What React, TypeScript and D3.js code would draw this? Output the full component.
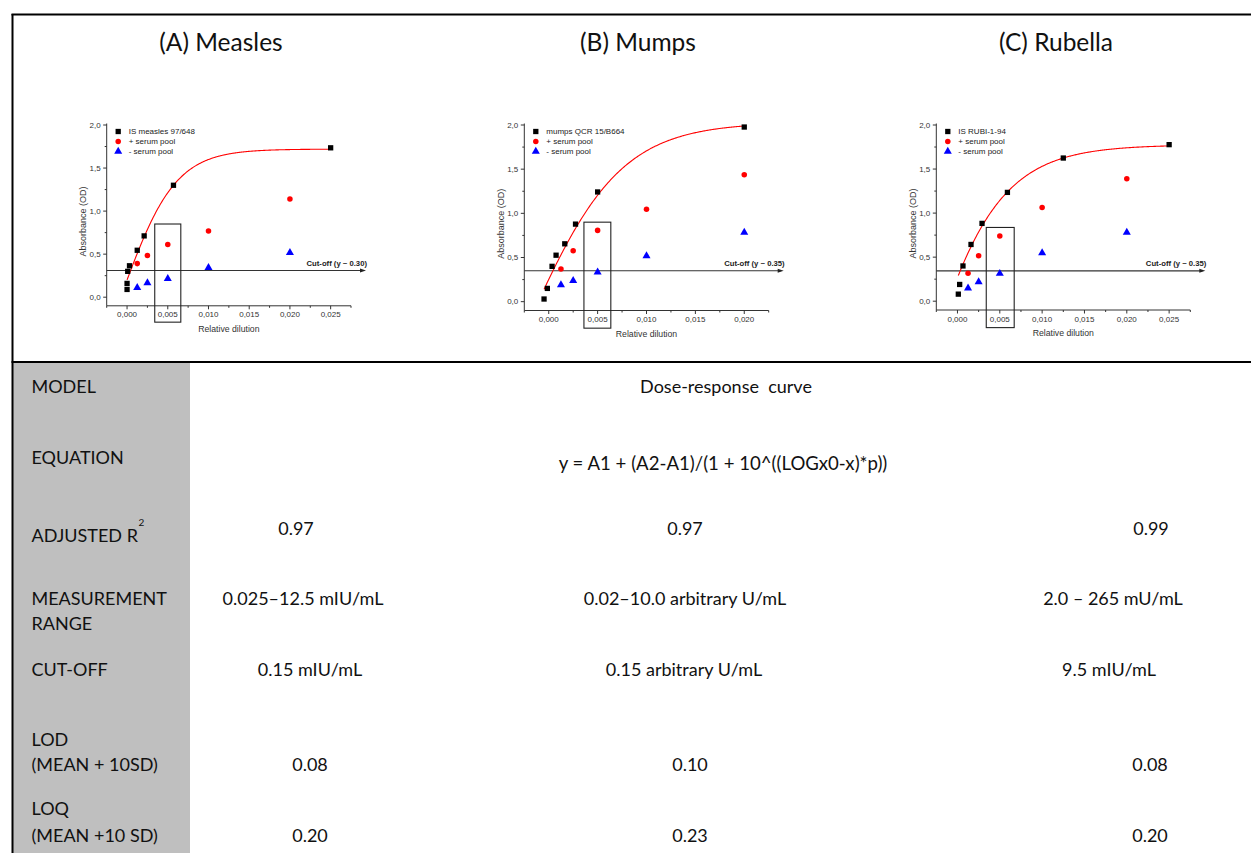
import React, { useEffect, useRef } from 'react'
import * as d3 from 'd3'

// panel titles and legend names
const panelTitles = ['(A) Measles', '(B) Mumps', '(C) Rubella']
const standardNames = ['IS measles 97/648', 'mumps QCR 15/B664', 'IS RUBI-1-94']
const poolNames = ['+ serum pool', '- serum pool']

// measles
const measlesStdX = [0, 0, 0.00008, 0.0003, 0.00125, 0.0021, 0.0057, 0.025]
const measlesStdY = [0.09, 0.16, 0.3, 0.365, 0.545, 0.712, 1.3, 1.735]
const measlesPoolX = [0.00125, 0.0025, 0.005, 0.01, 0.02]
const measlesPosY = [0.39, 0.485, 0.613, 0.77, 1.14]
const measlesNegY = [0.11, 0.165, 0.215, 0.342, 0.516]

// mumps
const mumpsStdX = [-0.00048, -0.00014, 0.00034, 0.00075, 0.00164, 0.00274, 0.005, 0.02]
const mumpsStdY = [0.03, 0.15, 0.4, 0.526, 0.655, 0.878, 1.242, 1.977]
const mumpsPoolX = [0.00125, 0.0025, 0.005, 0.01, 0.02]
const mumpsPosY = [0.37, 0.576, 0.807, 1.045, 1.436]
const mumpsNegY = [0.19, 0.237, 0.333, 0.519, 0.784]

// rubella
const rubellaStdX = [0.0001, 0.00026, 0.00065, 0.0016, 0.0029, 0.0059, 0.0125, 0.025]
const rubellaStdY = [0.08, 0.19, 0.4, 0.644, 0.883, 1.235, 1.625, 1.777]
const rubellaPoolX = [0.00125, 0.0025, 0.005, 0.01, 0.02]
const rubellaPosY = [0.318, 0.515, 0.739, 1.064, 1.39]
const rubellaNegY = [0.148, 0.22, 0.314, 0.549, 0.78]

// dose-response fit: y = A1 + (A2-A1)/(1 + 10^((LOGx0-x)*p))
const fitA1 = [-1.5, -2.5, -6]
const fitA2 = [1.72, 2.03, 1.775]
const fitLogx0 = [-0.00036, -0.00205, -0.00711]
const fitP = [136, 92.5, 87]

// cut-off lines and boxes around the 0,005 dilution
const cutOffY = [0.31, 0.35, 0.345]
const cutOffLabels = ['Cut-off (y ~ 0.30)', 'Cut-off (y ~ 0.35)', 'Cut-off (y ~ 0.35)']
const boxX0 = [0.0034, 0.0036, 0.0034]
const boxX1 = [0.0066, 0.00635, 0.0067]
const boxY0 = [-0.29, -0.3, -0.3]
const boxY1 = [0.85, 0.9, 0.837]

// x axis domains
const xMaxes = [0.0275, 0.0225, 0.0275]
const xTickMax = [0.025, 0.02, 0.025]

// table
const rowLabels = [['MODEL'], ['EQUATION'], ['ADJUSTED R'], ['MEASUREMENT', 'RANGE'], ['CUT-OFF'], ['LOD', '(MEAN + 10SD)'], ['LOQ', '(MEAN +10 SD)']]
const modelText = 'Dose-response  curve'
const equationText = 'y = A1 + (A2-A1)/(1 + 10^((LOGx0-x)*p))'
const adjustedR2 = ['0.97', '0.97', '0.99']
const measurementRange = ['0.025–12.5 mIU/mL', '0.02–10.0 arbitrary U/mL', '2.0 – 265 mU/mL']
const cutOffValues = ['0.15 mIU/mL', '0.15 arbitrary U/mL', '9.5 mIU/mL']
const lodValues = ['0.08', '0.10', '0.08']
const loqValues = ['0.20', '0.23', '0.20']

const panels = [
  { stdX: measlesStdX, stdY: measlesStdY, poolX: measlesPoolX, posY: measlesPosY, negY: measlesNegY },
  { stdX: mumpsStdX, stdY: mumpsStdY, poolX: mumpsPoolX, posY: mumpsPosY, negY: mumpsNegY },
  { stdX: rubellaStdX, stdY: rubellaStdY, poolX: rubellaPoolX, posY: rubellaPosY, negY: rubellaNegY }
]

// plot frames in page pixels
const frames = [
  { left: 106.7, right: 351, top: 125, bottom: 305.8, titleX: 221 },
  { left: 524.3, right: 768.7, top: 125, bottom: 310.5, titleX: 638 },
  { left: 936.3, right: 1190.3, top: 125, bottom: 310, titleX: 1056 }
]

const W = 1251
const H = 853
const TABLE_FONT = 'Lato, "Open Sans", sans-serif'
const CHART_FONT = '"Liberation Sans", Arial, sans-serif'

const comma = d3.formatLocale({ decimal: ',', thousands: '.', grouping: [3], currency: ['', ''] })

function drawPanel(svg: any, i: number) {
  const f = frames[i]
  const p = panels[i]
  const g = svg.append('g')

  const x = d3.scaleLinear().domain([-0.0025, xMaxes[i]]).range([f.left, f.right])
  const y = d3.scaleLinear().domain([-0.1, 2.0]).range([f.bottom, f.top])

  // title
  svg.append('text')
    .attr('x', f.titleX).attr('y', 51)
    .attr('text-anchor', 'middle')
    .attr('font-family', TABLE_FONT).attr('font-size', 24.5)
    .attr('fill', '#111')
    .text(panelTitles[i])

  // axes
  g.append('line').attr('x1', f.left).attr('x2', f.left).attr('y1', f.top - 1.5).attr('y2', f.bottom)
    .attr('stroke', '#333').attr('stroke-width', 1)
  g.append('line').attr('x1', f.left).attr('x2', f.right).attr('y1', f.bottom).attr('y2', f.bottom)
    .attr('stroke', '#333').attr('stroke-width', 1)

  const yMajor = d3.range(0, 2.01, 0.5)
  const yMinor = d3.range(0.25, 2, 0.5)
  const xMajor = d3.range(0, xTickMax[i] + 0.0001, 0.005)
  const xMinor = d3.range(-0.0025, xMaxes[i] + 0.0001, 0.005)

  g.selectAll('.ymaj').data(yMajor).enter().append('line')
    .attr('x1', f.left - 3.5).attr('x2', f.left)
    .attr('y1', (d: number) => y(d)).attr('y2', (d: number) => y(d))
    .attr('stroke', '#333')
  g.selectAll('.ymin').data(yMinor).enter().append('line')
    .attr('x1', f.left - 2).attr('x2', f.left)
    .attr('y1', (d: number) => y(d)).attr('y2', (d: number) => y(d))
    .attr('stroke', '#333')
  g.selectAll('.xmaj').data(xMajor).enter().append('line')
    .attr('x1', (d: number) => x(d)).attr('x2', (d: number) => x(d))
    .attr('y1', f.bottom).attr('y2', f.bottom + 3.5)
    .attr('stroke', '#333')
  g.selectAll('.xmin').data(xMinor).enter().append('line')
    .attr('x1', (d: number) => x(d)).attr('x2', (d: number) => x(d))
    .attr('y1', f.bottom).attr('y2', f.bottom + 2)
    .attr('stroke', '#333')

  g.selectAll('.ylab').data(yMajor).enter().append('text')
    .attr('x', f.left - 6).attr('y', (d: number) => y(d) + 2.8)
    .attr('text-anchor', 'end')
    .attr('font-family', CHART_FONT).attr('font-size', 8).attr('fill', '#333')
    .text((d: number) => comma.format('.1f')(d))
  g.selectAll('.xlab').data(xMajor).enter().append('text')
    .attr('x', (d: number) => x(d)).attr('y', f.bottom + 11.5)
    .attr('text-anchor', 'middle')
    .attr('font-family', CHART_FONT).attr('font-size', 8).attr('fill', '#333')
    .text((d: number) => comma.format('.3f')(d))

  // axis titles
  g.append('text')
    .attr('transform', `translate(${f.left - 20.5}, ${(f.top + f.bottom) / 2 + 6}) rotate(-90)`)
    .attr('text-anchor', 'middle')
    .attr('font-family', CHART_FONT).attr('font-size', 9).attr('fill', '#333')
    .text('Absorbance (OD)')
  g.append('text')
    .attr('x', (f.left + f.right) / 2).attr('y', f.bottom + 26)
    .attr('text-anchor', 'middle')
    .attr('font-family', CHART_FONT).attr('font-size', 8.7).attr('fill', '#333')
    .text('Relative dilution')

  // cut-off arrow
  const cy = y(cutOffY[i])
  const tip = f.right + 15
  g.append('line').attr('x1', f.left).attr('x2', tip - 3).attr('y1', cy).attr('y2', cy)
    .attr('stroke', '#333').attr('stroke-width', 1.2)
  g.append('path')
    .attr('d', `M${tip},${cy}L${tip - 6},${cy - 2}L${tip - 6},${cy + 2}Z`)
    .attr('fill', '#222')
  g.append('text')
    .attr('x', tip + 1).attr('y', cy - 4.5)
    .attr('text-anchor', 'end')
    .attr('font-family', CHART_FONT).attr('font-size', 7.7).attr('font-weight', 'bold').attr('fill', '#222')
    .text(cutOffLabels[i])

  // box around 0,005
  g.append('rect')
    .attr('x', x(boxX0[i])).attr('y', y(boxY1[i]))
    .attr('width', x(boxX1[i]) - x(boxX0[i])).attr('height', y(boxY0[i]) - y(boxY1[i]))
    .attr('fill', 'none').attr('stroke', '#222').attr('stroke-width', 1.1)

  // fitted curve
  const a1 = fitA1[i], a2 = fitA2[i], x0 = fitLogx0[i], pp = fitP[i]
  const xs = d3.range(p.stdX[0], d3.max(p.stdX) as number + 1e-6, 0.0001)
  const line = d3.line<number>()
    .x(d => x(d))
    .y(d => y(a1 + (a2 - a1) / (1 + Math.pow(10, (x0 - d) * pp))))
    .curve(d3.curveMonotoneX)
  g.append('path').attr('d', line(xs)).attr('fill', 'none').attr('stroke', '#ff0000').attr('stroke-width', 1.1)

  // markers
  const square = d3.symbol().type(d3.symbolSquare).size(28)
  const circle = d3.symbol().type(d3.symbolCircle).size(24)
  const triangle = d3.symbol().type(d3.symbolTriangle).size(28)

  g.selectAll('.neg').data(p.poolX).enter().append('path')
    .attr('d', triangle)
    .attr('transform', (d: number, k: number) => `translate(${x(d)}, ${y(p.negY[k])})`)
    .attr('fill', '#0000ff')
  g.selectAll('.pos').data(p.poolX).enter().append('path')
    .attr('d', circle)
    .attr('transform', (d: number, k: number) => `translate(${x(d)}, ${y(p.posY[k])})`)
    .attr('fill', '#ff0000')
  g.selectAll('.std').data(p.stdX).enter().append('path')
    .attr('d', square)
    .attr('transform', (d: number, k: number) => `translate(${x(d)}, ${y(p.stdY[k])})`)
    .attr('fill', '#000')

  // legend
  const legend = [
    { sym: square, color: '#000', name: standardNames[i] },
    { sym: circle, color: '#ff0000', name: poolNames[0] },
    { sym: triangle, color: '#0000ff', name: poolNames[1] }
  ]
  legend.forEach((l, k) => {
    const ly = f.top + 6.5 + k * 10
    g.append('path').attr('d', l.sym).attr('transform', `translate(${f.left + 11.5}, ${ly})`).attr('fill', l.color)
    g.append('text')
      .attr('x', f.left + 22).attr('y', ly + 2.9)
      .attr('font-family', CHART_FONT).attr('font-size', 8).attr('fill', '#222')
      .text(l.name)
  })
}

function drawTable(svg: any) {
  const t = svg.append('g').attr('font-family', TABLE_FONT).attr('font-size', 18).attr('fill', '#111')

  t.append('rect').attr('x', 13).attr('y', 363).attr('width', 177).attr('height', H - 363).attr('fill', '#bfbfbf')

  const labelLines = [[393], [463.5], [542], [605, 630], [676], [746, 771], [815, 841.5]]
  rowLabels.forEach((lines, r) => {
    lines.forEach((s, k) => {
      const txt = t.append('text').attr('x', 31.5).attr('y', labelLines[r][k]).text(s)
      if (r === 2) {
        // superscript 2 after R
        txt.append('tspan').attr('dx', 0.5).attr('dy', -16).attr('font-size', 10).text('2')
      }
    })
  })

  // keep the double space of the original
  t.append('text').attr('x', 726).attr('y', 393).attr('text-anchor', 'middle')
    .text(modelText.replace(/ {2}/g, ' \u00a0'))
  t.append('text').attr('x', 723).attr('y', 470).attr('text-anchor', 'middle').attr('font-size', 18.6)
    .text(equationText)

  const rows = [
    { vals: adjustedR2, y: 535, cx: [296, 685, 1151] },
    { vals: measurementRange, y: 605, cx: [303, 685, 1113] },
    { vals: cutOffValues, y: 676, cx: [310, 684, 1109] },
    { vals: lodValues, y: 771, cx: [310, 690, 1150] },
    { vals: loqValues, y: 841.5, cx: [310, 690, 1150] }
  ]
  rows.forEach(row => {
    row.vals.forEach((v, c) => {
      t.append('text').attr('x', row.cx[c]).attr('y', row.y).attr('text-anchor', 'middle').text(v)
    })
  })
}

export default function App() {
  const ref = useRef<SVGSVGElement>(null)

  useEffect(() => {
    const svg = d3.select(ref.current)
    svg.selectAll('*').remove()

    svg.append('rect').attr('width', W).attr('height', H).attr('fill', '#fff')

    drawTable(svg)
    for (let i = 0; i < 3; i++) drawPanel(svg, i)

    // frame lines
    svg.append('line').attr('x1', 11.5).attr('x2', W).attr('y1', 14.5).attr('y2', 14.5).attr('stroke', '#000').attr('stroke-width', 2)
    svg.append('line').attr('x1', 12.5).attr('x2', 12.5).attr('y1', 14).attr('y2', H).attr('stroke', '#000').attr('stroke-width', 2)
    svg.append('line').attr('x1', 11.5).attr('x2', W).attr('y1', 362).attr('y2', 362).attr('stroke', '#000').attr('stroke-width', 2)
  }, [])

  return (
    <div>
      <style>{'body{margin:0}'}</style>
      <svg ref={ref} width={W} height={H} style={{ display: 'block' }} />
    </div>
  )
}
